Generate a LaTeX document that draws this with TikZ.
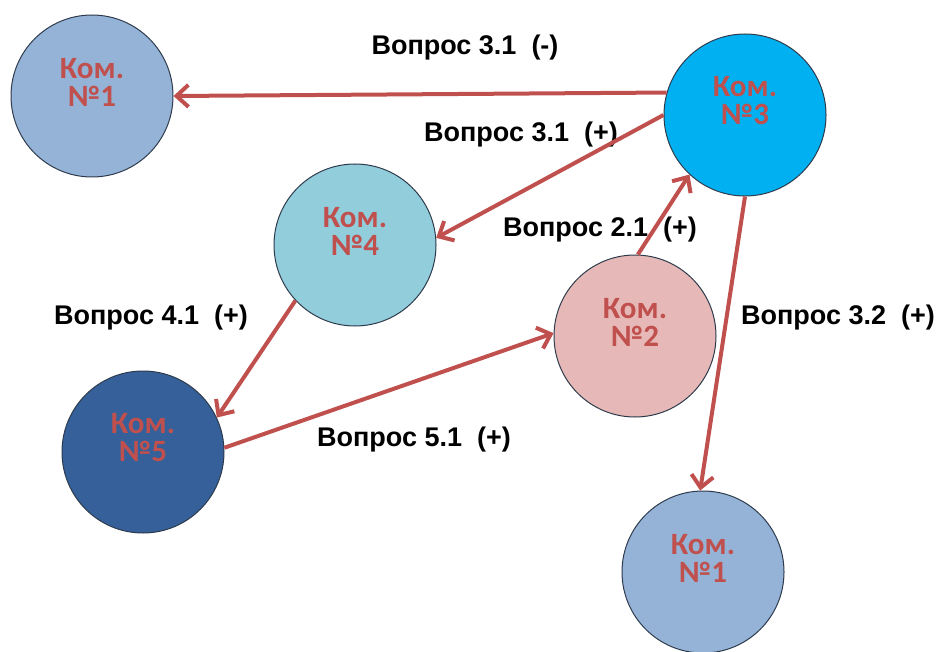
\documentclass[tikz,border=0pt]{standalone}
\usepackage{fontspec}
\setmainfont{Liberation Sans}
\newfontfamily\komfont{Carlito}
\usetikzlibrary{arrows.meta, positioning}

\definecolor{komred}{HTML}{C0504D}
\definecolor{komgrey}{HTML}{95B3D7}
\definecolor{komcyan}{HTML}{00B0F0}
\definecolor{komteal}{HTML}{92CDDC}
\definecolor{kompink}{HTML}{E6B9B8}
\definecolor{komnavy}{HTML}{35609A}
\definecolor{komedge}{HTML}{2E3B4C}

\begin{document}
\begin{tikzpicture}[
x=0.5pt, y=-0.5pt,
kom/.style={circle, draw=komedge, line width=0.5pt, minimum size=81pt, inner sep=0pt},
kom-text/.style={text=komred, font=\komfont\bfseries\fontsize{15.5}{14}\selectfont, align=center, yshift=7pt},
ask/.style={font=\bfseries\fontsize{13.5}{15}\selectfont, text=black},
line/.style={draw=komred, line width=2pt, -{Straight Barb[length=6pt, width=11pt, line width=2pt]}}
]
\useasboundingbox (0,0) rectangle (936,652);

\node [kom, fill=komgrey, label={[kom-text]center:Ком.\\№1}] (k1a) at (92,96) {};
\node [kom, fill=komcyan, label={[kom-text]center:Ком.\\№3}] (k3) at (745,115) {};
\node [kom, fill=komteal, label={[kom-text]center:Ком.\\№4}] (k4) at (355,245) {};
\node [kom, fill=kompink, label={[kom-text]center:Ком.\\№2}] (k2) at (635,336) {};
\node [kom, fill=komnavy, label={[kom-text]center:Ком.\\№5}] (k5) at (143,452) {};
\node [kom, fill=komgrey, label={[kom-text]center:Ком.\\№1}] (k1b) at (703,572) {};

\node [ask] (q31m) at (465,48) {Вопрос 3.1~~(-)};
\node [ask] (q31p) at (521,135) {Вопрос 3.1~~(+)};
\node [ask] (q21) at (600,230) {Вопрос 2.1~~(+)};
\node [ask] (q41) at (151,318) {Вопрос 4.1~~(+)};
\node [ask] (q32) at (838,318) {Вопрос 3.2~~(+)};
\node [ask] (q51) at (414,440) {Вопрос 5.1~~(+)};

\path [line] (k3.164) -- (k1a.east);
\path [line] (k3.180) -- (k4.5);
\path [line] (k2.88) -- (k3.227);
\path [line] (k3.270) -- (k1b.92);
\path [line] (k4.223) -- (k5.25);
\path [line] (k5.3) -- (k2.178);

\end{tikzpicture}
\end{document}
